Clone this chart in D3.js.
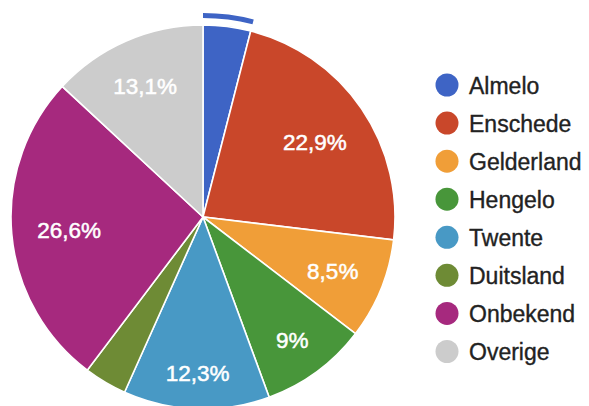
<!DOCTYPE html>
<html><head><meta charset="utf-8">
<script src="https://cdn.jsdelivr.net/npm/d3@7"></script>
<style>
html,body{margin:0;padding:0;background:#fff;}
svg{display:block;}
</style></head>
<body>
<svg id="chart" width="589" height="406"></svg>
<script>
const categories = ["Almelo","Enschede","Gelderland","Hengelo","Twente","Duitsland","Onbekend","Overige"];
const values = [4.0, 22.9, 8.5, 9.0, 12.3, 3.6, 26.6, 13.1];
const colors = ["#3e64c5","#c9472a","#f09e38","#48963a","#4899c5","#6e8b35","#a6297e","#cccccc"];
const highlighted = "Almelo";

const svg = d3.select("#chart");
const cx = 203, cy = 217, R = 192;
const font = "'Liberation Sans', Arial, sans-serif";

const data = categories.map((c,i)=>({name:c, value:values[i], color:colors[i]}));
const pie = d3.pie().sort(null).value(d=>d.value);
const arcs = pie(data);
const arc = d3.arc().innerRadius(0).outerRadius(R);

const g = svg.append("g").attr("transform",`translate(${cx},${cy})`);
g.selectAll("path.slice").data(arcs).join("path")
  .attr("class","slice")
  .attr("d",arc)
  .attr("fill",d=>d.data.color)
  .attr("stroke","#fff")
  .attr("stroke-width",1.6);

// hover ring on highlighted slice
const ringArc = d3.arc().innerRadius(R+7).outerRadius(R+12);
g.selectAll("path.ring").data(arcs.filter(d=>d.data.name===highlighted)).join("path")
  .attr("class","ring")
  .attr("d",ringArc)
  .attr("fill",d=>d.data.color);

// labels
const locale = d3.formatLocale({decimal:",",thousands:".",grouping:[3],currency:["€",""]});
const fmt = locale.format(".1~f");
const total = d3.sum(values);
const fs = 22.5;
const D = R*0.87;
const labels = g.selectAll("text.lbl").data(arcs.filter(d=>d.value/total>=0.05)).join("text")
  .attr("class","lbl")
  .attr("font-family",font)
  .attr("font-size",fs)
  .attr("fill","#fff")
  .attr("stroke","#fff")
  .attr("stroke-width",0.5)
  .attr("text-anchor","middle")
  .text(d=>fmt(d.value/total*100)+"%");
labels.each(function(d){
  const w = this.getComputedTextLength();
  const h = fs*0.75;
  const a = (d.startAngle+d.endAngle)/2;
  const ux = Math.sin(a), uy = -Math.cos(a);
  const b = Math.abs(ux)*w + Math.abs(uy)*h;
  const c = (w*w+h*h)/4 - D*D;
  const r = (-b + Math.sqrt(b*b-4*c))/2;
  d3.select(this).attr("x", r*ux).attr("y", r*uy + h/2 + 1);
});

// legend
const lg = svg.append("g");
const legY = d3.scalePoint().domain(categories).range([85, 351.5]);
const items = lg.selectAll("g").data(data).join("g")
  .attr("transform",d=>`translate(447,${legY(d.name)})`);
items.append("circle").attr("r",11.5).attr("fill",d=>d.color);
items.append("text").attr("x",22).attr("y",8.5)
  .attr("font-family",font).attr("font-size",23).attr("fill","#222")
  .attr("stroke","#222").attr("stroke-width",0.35)
  .text(d=>d.name);
</script>
</body></html>
